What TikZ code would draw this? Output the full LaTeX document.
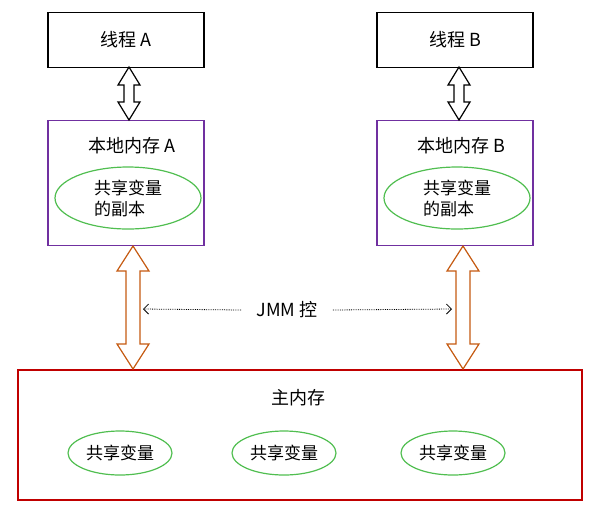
\documentclass[tikz,border=0pt]{standalone}
\usepackage{fontspec}
\setmainfont{Noto Sans CJK SC}
\usetikzlibrary{shapes.geometric,arrows.meta,calc}
\definecolor{purp}{RGB}{112,48,160}
\definecolor{dred}{RGB}{192,0,0}
\definecolor{grn}{RGB}{80,190,80}
\definecolor{orng}{RGB}{197,90,17}
\tikzset{
	box/.style={draw,line width=1.2pt,minimum width=156pt,inner sep=0pt},
	var/.style={ellipse,draw=grn,line width=1.2pt,minimum width=104pt,minimum height=44pt,inner sep=0pt,font=\fontsize{17}{21}\selectfont},
	ctl/.style={densely dotted,thick,-{Straight Barb[length=5pt,width=10pt]}},
}
% hollow double arrow: x, top, bottom, half shaft, half head, head length
\newcommand{\dblarr}[7]{%
	\draw[#7,line width=1.2pt,fill=white] (#1,#2) -- ({#1+#5},{#2+#6}) -- ({#1+#4},{#2+#6}) -- ({#1+#4},{#3-#6}) -- ({#1+#5},{#3-#6}) -- (#1,#3) -- ({#1-#5},{#3-#6}) -- ({#1-#4},{#3-#6}) -- ({#1-#4},{#2+#6}) -- ({#1-#5},{#2+#6}) -- cycle;}
\begin{document}
\begin{tikzpicture}[x=1pt,y=-1pt,font=\fontsize{18}{22}\selectfont]
	\useasboundingbox (0,0) rectangle (600,515);
	\node[box,minimum height=55pt] (tA) at (126,40) {线程 A};
	\node[box,minimum height=55pt] (tB) at (455,40) {线程 B};
	\node[box,draw=purp,minimum height=125pt] (lA) at (126,183) {};
	\node[box,draw=purp,minimum height=125pt] (lB) at (455,183) {};
	\node (lAt) at (132,146) {本地内存 A};
	\node (lBt) at (461,146) {本地内存 B};
	\node[var,minimum width=146pt,minimum height=62pt,align=left] (cA) at (128,198) {共享变量\\的副本};
	\node[var,minimum width=146pt,minimum height=62pt,align=left] (cB) at (457,198) {共享变量\\的副本};
	\node[box,draw=dred,minimum width=564pt,minimum height=130pt] (main) at (300,435) {};
	\node (mt) at (298,398) {主内存};
	\node[var] (v1) at (120,453) {共享变量};
	\node[var] (v2) at (284,453) {共享变量};
	\node[var] (v3) at (453,453) {共享变量};
	% arrows
	\dblarr{129}{67}{120}{5}{11}{18}{black}
	\dblarr{459}{67}{120}{5}{11}{18}{black}
	\dblarr{133}{246}{369}{7}{16}{25}{orng}
	\dblarr{463}{246}{369}{7}{16}{25}{orng}
	\node (jmm) at (287,310) {JMM 控};
	\coordinate (jl) at (143,309);
	\coordinate (jr) at (452,309);
	\draw[ctl] ($(jmm.west)+(-12,0)$) -- (jl);
	\draw[ctl] ($(jmm.east)+(12,0)$) -- (jr);
\end{tikzpicture}
\end{document}
